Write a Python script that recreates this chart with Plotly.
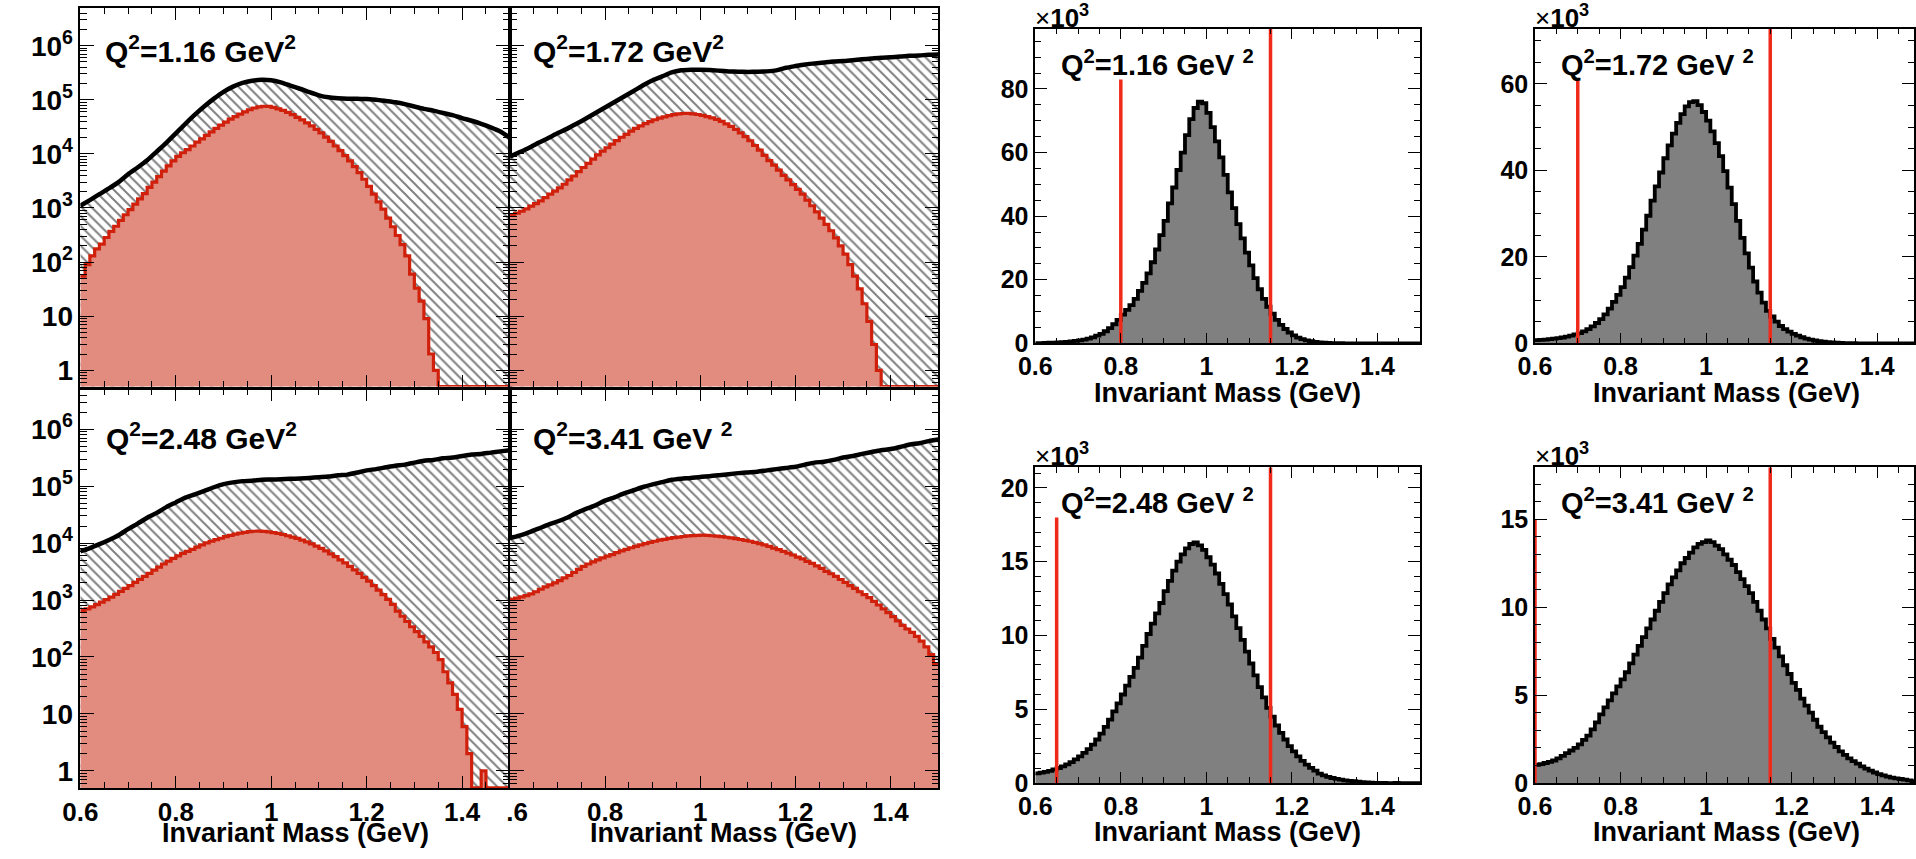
import math
import plotly.graph_objects as go

W, H = 1916, 859

# ---------------- data ----------------
Q2_LABELS = ["1.16", "1.72", "2.48", "3.41"]

# bin lower edges (GeV), 0.01 GeV bins from 0.60 to 1.50
MASS_EDGES = [round(0.60 + 0.01 * i, 2) for i in range(91)]

# selected (signal) histogram counts per bin, one array per Q^2 bin
SIGNAL_Q2_116 = [
    55, 90, 130, 175, 215, 285, 370, 460, 590, 750,
    930, 1180, 1480, 1850, 2400, 3000, 3800, 4800, 6000, 7400,
    9000, 10500, 12000, 14000, 16500, 19000, 22000, 25500, 29500, 34000,
    38500, 44000, 49000, 54500, 60000, 65500, 70500, 74000, 76000, 75500,
    72500, 68000, 63500, 58500, 53000, 47500, 42500, 37500, 33000, 28500,
    24500, 20500, 17000, 14000, 11500, 9300, 7400, 5800, 4500, 3400,
    2500, 1800, 1300, 950, 650, 450, 310, 210, 130, 60,
    33, 19, 9, 2, 1, 0, 0, 0, 0, 0,
    0, 0, 0, 0, 0, 0, 0, 0, 0, 0]
SIGNAL_Q2_172 = [
    730, 800, 870, 960, 1080, 1200, 1350, 1550, 1800, 2050,
    2350, 2750, 3300, 3900, 4700, 5600, 6700, 8000, 9600, 11200,
    13000, 15200, 17600, 20300, 23000, 26300, 29500, 33000, 36300, 39500,
    42800, 45800, 48500, 51000, 53000, 54800, 55800, 56000, 55100, 53500,
    51500, 49000, 46300, 43300, 39800, 36000, 32200, 28300, 24400, 20800,
    17500, 14300, 11700, 9400, 7500, 6200, 5000, 4000, 3300, 2700,
    2200, 1800, 1400, 1100, 850, 650, 500, 380, 280, 200,
    140, 90, 55, 32, 17, 8, 3, 1, 0, 0,
    0, 0, 0, 0, 0, 0, 0, 0, 0, 0]
SIGNAL_Q2_248 = [
    650, 700, 760, 830, 920, 1020, 1130, 1260, 1420, 1600,
    1800, 2050, 2300, 2600, 2950, 3350, 3800, 4300, 4850, 5400,
    6000, 6600, 7200, 7800, 8500, 9300, 10100, 10800, 11500, 12200,
    13000, 13700, 14400, 15000, 15500, 15900, 16200, 16300, 16100, 15800,
    15300, 14800, 14200, 13500, 12800, 12100, 11300, 10500, 9700, 8900,
    8100, 7300, 6500, 5800, 5100, 4500, 3900, 3400, 2950, 2500,
    2150, 1800, 1500, 1250, 1030, 840, 640, 520, 420, 340,
    280, 230, 185, 150, 120, 90, 55, 35, 22, 12,
    6, 2, 0, 0, 1, 0, 0, 0, 0, 0]
SIGNAL_Q2_341 = [
    1030, 1080, 1140, 1200, 1280, 1400, 1550, 1700, 1850, 2000,
    2200, 2450, 2700, 3050, 3450, 3900, 4300, 4700, 5100, 5500,
    5900, 6300, 6800, 7300, 7800, 8300, 8800, 9300, 9800, 10300,
    10800, 11300, 11700, 12100, 12500, 12800, 13100, 13400, 13600, 13700,
    13800, 13700, 13500, 13300, 13000, 12700, 12400, 12000, 11600, 11200,
    10800, 10300, 9800, 9300, 8800, 8200, 7700, 7200, 6700, 6200,
    5700, 5300, 4800, 4400, 4000, 3600, 3200, 2900, 2600, 2300,
    2050, 1800, 1600, 1400, 1250, 1100, 950, 820, 700, 600,
    510, 430, 360, 310, 270, 230, 190, 150, 110, 75]

# total (all events) curve, sampled every 0.02 GeV
TOTAL_MASS = [round(0.60 + 0.02 * k, 2) for k in range(46)]
TOTAL_Q2_116 = [
    1100, 1400, 1800, 2300, 3000, 4200, 5600, 7600, 11000, 16000,
    24000, 36000, 53000, 76000, 105000, 140000, 175000, 205000, 225000, 235000,
    230000, 210000, 183000, 160000, 138000, 121000, 111000, 107000, 105000, 105000,
    103000, 100000, 95000, 90000, 83000, 75000, 68000, 63000, 57000, 52000,
    46000, 41000, 36000, 31000, 26000, 20000]
TOTAL_Q2_172 = [
    8900, 10700, 12900, 16000, 19500, 24000, 29000, 36000, 45000, 57000,
    72000, 91000, 115000, 145000, 186000, 230000, 270000, 320000, 350000, 360000,
    360000, 355000, 345000, 335000, 330000, 328000, 330000, 335000, 350000, 390000,
    420000, 450000, 470000, 490000, 510000, 520000, 540000, 560000, 580000, 600000,
    610000, 630000, 650000, 660000, 680000, 690000]
TOTAL_Q2_248 = [
    7200, 8200, 9600, 11400, 13800, 17600, 22000, 28000, 34000, 43000,
    52000, 63000, 72000, 83000, 96000, 109000, 117000, 123000, 125000, 130000,
    131000, 133000, 135000, 137000, 140000, 144000, 148000, 156000, 160000, 174000,
    190000, 200000, 215000, 230000, 240000, 260000, 280000, 290000, 310000, 320000,
    340000, 360000, 370000, 390000, 410000, 430000]
TOTAL_Q2_341 = [
    12300, 13600, 15500, 18000, 21000, 24000, 28000, 34000, 40000, 46000,
    56000, 64000, 75000, 85000, 97000, 108000, 118000, 130000, 136000, 140000,
    146000, 150000, 156000, 163000, 170000, 175000, 180000, 190000, 200000, 210000,
    220000, 240000, 260000, 270000, 290000, 320000, 340000, 370000, 400000, 430000,
    450000, 490000, 540000, 570000, 620000, 660000]

SIGNALS = [SIGNAL_Q2_116, SIGNAL_Q2_172, SIGNAL_Q2_248, SIGNAL_Q2_341]
TOTALS = [TOTAL_Q2_116, TOTAL_Q2_172, TOTAL_Q2_248, TOTAL_Q2_341]

# mass cut lines (GeV) and height of the lower cut line (x10^3 counts)
CUT_LOW = [0.80, 0.70, 0.65, 0.60]
CUT_LOW_TOP = [83, 61, 18, 15]
CUT_HIGH = [1.15, 1.15, 1.15, 1.15]

# linear-panel y maxima (x10^3)
LIN_YMAX = [99.0, 72.8, 21.4, 17.96]
LIN_MAJOR = [20, 20, 5, 5]
LIN_MINOR = [5, 5, 1, 1]

X_TICKS = [0.6, 0.8, 1.0, 1.2, 1.4]
X_TICKTEXT = ["0.6", "0.8", "1", "1.2", "1.4"]
LOG_YMIN, LOG_YMAX = 0.5, 5.0e6

# ---------------- style ----------------
FONT = "Liberation Sans, Arial, Helvetica, sans-serif"
SALMON = "#E28B7F"
RED_LINE = "#D0200C"
CUT_RED = "#F02A1A"
GRAY = "#808080"


def px_x(p):
    return p / W


def px_y(p):
    return 1 - p / H


def b(t):
    return f"<b>{t}</b>"


# panel rectangles in pixels: (x0, x1, ytop, ybottom)
LOG_PANELS = [(63, 497, 8, 393), (497, 930, 8, 393), (63, 497, 396, 801), (497, 930, 396, 801)]
LIN_PANELS = [(1028, 1417, 29, 349), (1533, 1916, 29, 349), (1028, 1417, 475, 796), (1533, 1916, 475, 796)]

fig = go.Figure()
layout = dict(
    width=W, height=H, margin=dict(l=0, r=0, t=0, b=0),
    paper_bgcolor="white", plot_bgcolor="white", showlegend=False,
    font=dict(family=FONT, color="black"),
)
annotations = []

x_minor_vals = [round(0.6 + 0.05 * i, 2) for i in range(19) if i % 4 != 0]
log_major = [1, 10, 100, 1e3, 1e4, 1e5, 1e6]
log_major_text = [b("1"), b("10")] + [b(f"10<sup>{e}</sup>") for e in range(2, 7)]
log_minor = [k * 10 ** e for e in range(-1, 7) for k in range(2, 10)
             if LOG_YMIN <= k * 10 ** e <= LOG_YMAX]

axis_common = dict(
    showline=True, linecolor="black", linewidth=1.5, mirror="ticks",
    ticks="inside", tickcolor="black", showgrid=False, zeroline=False,
    fixedrange=True,
)

for i in range(8):
    n = i + 1
    xa = "xaxis" if n == 1 else f"xaxis{n}"
    ya = "yaxis" if n == 1 else f"yaxis{n}"
    xr = "x" if n == 1 else f"x{n}"
    yr = "y" if n == 1 else f"y{n}"
    if i < 4:
        x0, x1, yt, yb = LOG_PANELS[i]
        bottom_row = i >= 2
        left_col = i % 2 == 0
        ttext = [b(t) for t in X_TICKTEXT]
        if i == 3:
            ttext[0] = b("\u2007.6")
        layout[xa] = dict(
            axis_common, domain=[px_x(x0), px_x(x1)], range=[0.6, 1.5], anchor=yr,
            tickmode="array", tickvals=X_TICKS, ticktext=ttext,
            showticklabels=bottom_row, ticklen=12, tickwidth=1.2,
            tickfont=dict(family=FONT, size=26, color="black"),
            minor=dict(ticks="inside", ticklen=6, tickcolor="black", tickwidth=1,
                       tickmode="array", tickvals=x_minor_vals),
        )
        layout[ya] = dict(
            axis_common, type="log", domain=[px_y(yb), px_y(yt)],
            range=[math.log10(LOG_YMIN), math.log10(LOG_YMAX)], anchor=xr,
            tickmode="array", tickvals=log_major, ticktext=log_major_text,
            showticklabels=left_col, ticklen=14, tickwidth=1.2,
            tickfont=dict(family=FONT, size=28, color="black"),
            minor=dict(ticks="inside", ticklen=7, tickcolor="black", tickwidth=1,
                       tickmode="array", tickvals=log_minor),
        )
    else:
        j = i - 4
        x0, x1, yt, yb = LIN_PANELS[j]
        xmax = 0.6 + 0.9 * (x1 - x0) / 389.0
        ymax = LIN_YMAX[j]
        maj = LIN_MAJOR[j]
        mnr = LIN_MINOR[j]
        yticks = [v for v in range(0, int(ymax) + 1, maj)]
        yminor = [v for v in range(0, int(ymax) + 1, mnr) if v % maj != 0]
        layout[xa] = dict(
            axis_common, domain=[px_x(x0), px_x(x1)], range=[0.6, xmax], anchor=yr,
            tickmode="array", tickvals=X_TICKS, ticktext=[b(t) for t in X_TICKTEXT],
            showticklabels=True, ticklen=11, tickwidth=1.2,
            tickfont=dict(family=FONT, size=25, color="black"),
            minor=dict(ticks="inside", ticklen=6, tickcolor="black", tickwidth=1,
                       tickmode="array", tickvals=x_minor_vals),
        )
        layout[ya] = dict(
            axis_common, domain=[px_y(yb), px_y(yt)], range=[0, ymax], anchor=xr,
            tickmode="array", tickvals=yticks, ticktext=[b(str(v)) for v in yticks],
            showticklabels=True, ticklen=12, tickwidth=1.2,
            tickfont=dict(family=FONT, size=25, color="black"),
            minor=dict(ticks="inside", ticklen=6, tickcolor="black", tickwidth=1,
                       tickmode="array", tickvals=yminor),
        )

# ---------------- traces ----------------
def step_y(vals):
    return list(vals) + [vals[-1]]


for i in range(4):
    n = i + 1
    xr = "x" if n == 1 else f"x{n}"
    yr = "y" if n == 1 else f"y{n}"
    # total curve with hatched area beneath
    fig.add_trace(go.Scatter(
        x=TOTAL_MASS, y=TOTALS[i], xaxis=xr, yaxis=yr, mode="lines",
        line=dict(color="black", width=4.5, shape="spline", smoothing=0.6),
        fill="tozeroy",
        fillpattern=dict(shape="\\", fgcolor="black", bgcolor="white", size=7, solidity=0.28),
        hoverinfo="skip",
    ))
    # signal histogram on log scale (empty bins drawn on the frame floor)
    sig = [v if v > 0 else LOG_YMIN for v in SIGNALS[i]]
    fig.add_trace(go.Scatter(
        x=MASS_EDGES, y=step_y(sig), xaxis=xr, yaxis=yr, mode="lines",
        line=dict(color=RED_LINE, width=3.2, shape="hv"),
        fill="tozeroy", fillcolor=SALMON, hoverinfo="skip",
    ))

for j in range(4):
    n = j + 5
    xr = f"x{n}"
    yr = f"y{n}"
    vals_k = [v / 1000.0 for v in SIGNALS[j]]
    fig.add_trace(go.Scatter(
        x=MASS_EDGES, y=step_y(vals_k), xaxis=xr, yaxis=yr, mode="lines",
        line=dict(color="black", width=3.8, shape="hv"),
        fill="tozeroy", fillcolor=GRAY, hoverinfo="skip",
    ))
    fig.add_trace(go.Scatter(
        x=[CUT_LOW[j], CUT_LOW[j]], y=[0, CUT_LOW_TOP[j]], xaxis=xr, yaxis=yr,
        mode="lines", line=dict(color=CUT_RED, width=3.5), hoverinfo="skip",
    ))
    fig.add_trace(go.Scatter(
        x=[CUT_HIGH[j], CUT_HIGH[j]], y=[0, LIN_YMAX[j]], xaxis=xr, yaxis=yr,
        mode="lines", line=dict(color=CUT_RED, width=3.5), hoverinfo="skip",
    ))

# ---------------- text ----------------
def ann(text, x, y, size, xanchor="left", yanchor="middle"):
    annotations.append(dict(
        text=text, x=px_x(x), y=px_y(y), xref="paper", yref="paper",
        xanchor=xanchor, yanchor=yanchor, showarrow=False,
        font=dict(family=FONT, size=size, color="black"),
    ))


# Q^2 labels, left (log) panels
log_label_pos = [(86, 50), (518, 50), (87, 443), (518, 443)]
for i, (lx, ly) in enumerate(log_label_pos):
    sp = " " if i == 3 else ""
    ann(b("Q<sup>2</sup>=" + Q2_LABELS[i] + f" GeV{sp}<sup>2</sup>"), lx, ly, 30)

# Q^2 labels, right (linear) panels
lin_label_pos = [(1052, 64), (1557, 64), (1052, 509), (1557, 509)]
for j, (lx, ly) in enumerate(lin_label_pos):
    ann(b("Q<sup>2</sup>=" + Q2_LABELS[j] + " GeV <sup>2</sup>"), lx, ly, 29)

# x10^3 multipliers
for (lx, ly) in [(1026, 17), (1531, 17), (1026, 462), (1531, 462)]:
    ann("\u00d7" + b("10<sup>3</sup>"), lx, ly, 26)

# axis titles
for (cx, cy) in [(280, 847), (713, 847), (1222, 400), (1727, 400), (1222, 846), (1727, 846)]:
    ann(b("Invariant Mass (GeV)"), cx, cy, 27, xanchor="center")

layout["annotations"] = annotations
fig.update_layout(**layout)
fig.write_html("out.html")
